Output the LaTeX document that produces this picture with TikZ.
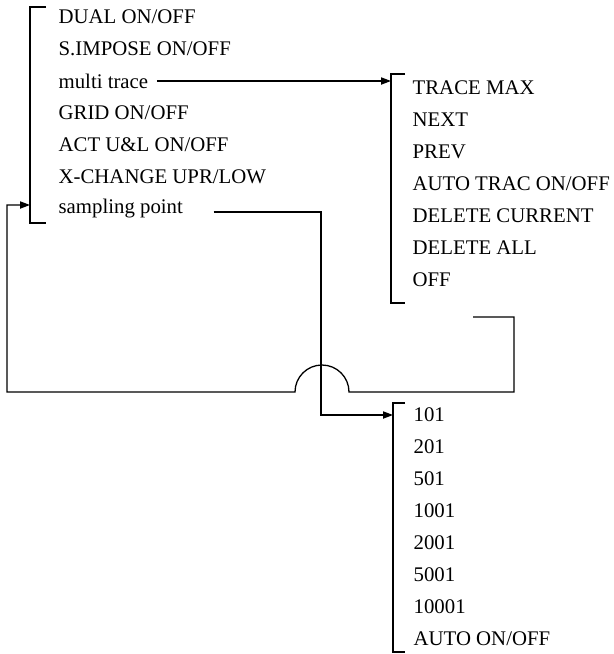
\documentclass[tikz,border=0pt]{standalone}
\usepackage{fontspec}
\setmainfont{Liberation Serif}
\usetikzlibrary{arrows.meta}

\begin{document}
\begin{tikzpicture}[x=0.5pt, y=-0.5pt, line width=0.65pt,
  item/.style={anchor=west, inner sep=0pt, font=\fontsize{10.4}{12}\selectfont},
  arr/.style={-{Triangle[length=5pt,width=3.6pt]}}]
\useasboundingbox (0,0) rectangle (614,654);
%% ------------------------------------------------------------------ main menu
\foreach \t [count=\i] in {DUAL ON/OFF, S.IMPOSE ON/OFF, multi trace, GRID ON/OFF,
    ACT U\&L ON/OFF, X-CHANGE UPR/LOW, sampling point}
  \node[item] (main\i) at (58,{17+32*(\i-1)}) {\t};
\coordinate (mbrk) at (30,7);
\draw (mbrk) ++(16,0) -- (mbrk) -- (30,223) -- ++(16,0);
%% ------------------------------------------------------------------ multi trace menu
\foreach \t [count=\i] in {TRACE MAX, NEXT, PREV, AUTO TRAC ON/OFF, DELETE CURRENT,
    DELETE ALL, OFF}
  \node[item] (trace\i) at (412,{88+32*(\i-1)}) {\t};
\coordinate (tbrk) at (391,74);
\draw (tbrk) ++(14,0) -- (tbrk) -- (391,303) -- ++(14,0);
%% ------------------------------------------------------------------ sampling point menu
\foreach \t [count=\i] in {101, 201, 501, 1001, 2001, 5001, 10001, AUTO ON/OFF}
  \node[item] (samp\i) at (413,{415+32*(\i-1)}) {\t};
\coordinate (sbrk) at (393,403);
\draw (sbrk) ++(12,0) -- (sbrk) -- (393,652) -- ++(12,0);
%% ------------------------------------------------------------------ connectors
\coordinate (hop) at (321,392);   % where the sampling line crosses the return
\coordinate (back) at (473,317);  % free end below the trace menu
\draw[arr] ([xshift=4pt]main3.east) -- (main3.east -| tbrk);
\draw[arr] ([xshift=15pt,yshift=-1.5pt]main7.east) -| (hop) |- (samp1.west -| sbrk);
% the return to the main menu, hopping over the sampling line
\draw[arr] (back) -- (514,317) |- (349,392) arc[start angle=0, end angle=-180, radius=27]
  -- (7,392) |- ([yshift=2pt]main7.west -| mbrk);
\end{tikzpicture}
\end{document}
